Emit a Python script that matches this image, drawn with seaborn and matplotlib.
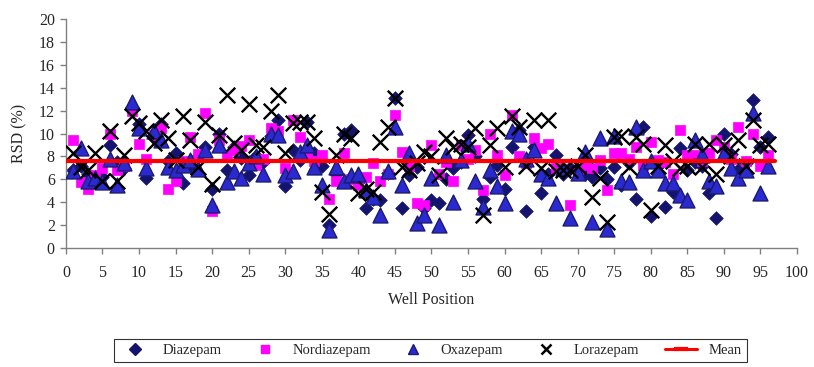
import matplotlib
matplotlib.use("Agg")
import matplotlib.pyplot as plt
import pandas as pd
import seaborn as sns
from matplotlib.lines import Line2D

sns.set_style("white")
plt.rcParams["font.family"] = ["Liberation Serif", "DejaVu Serif"]

wells = list(range(1, 97))

diazepam = [6.8, 7.2, 6.5, 6.0, 6.2, 9.0, 7.5, 7.0, 12.3, 10.8,
            6.1, 9.6, 10.8, 7.6, 8.3, 5.65, 7.2, 8.0, 8.8, 5.2,
            10.0, 6.8, 8.8, 7.9, 6.4, 8.0, 7.5, 9.8, 11.2, 5.4,
            8.6, 7.7, 11.0, 8.3, 7.2, 2.0, 6.5, 10.0, 10.3, 5.8,
            3.5, 4.3, 4.2, 6.6, 13.1, 3.5, 6.4, 7.1, 3.5, 4.2,
            3.9, 6.0, 7.0, 7.5, 9.9, 8.0, 4.3, 6.2, 7.3, 5.2,
            8.8, 10.3, 3.2, 8.8, 4.8, 6.5, 8.1, 6.5, 7.0, 6.8,
            6.5, 6.2, 7.0, 6.0, 7.1, 5.5, 7.4, 4.3, 10.6, 2.8,
            7.2, 3.6, 4.9, 8.7, 6.8, 7.5, 7.2, 4.8, 2.6, 10.0,
            8.2, 6.8, 7.4, 12.9, 8.8, 9.7]

nordiazepam = [9.4, 5.8, 5.2, 6.4, 7.0, 10.0, 6.8, 7.2, 12.0, 9.1,
               7.8, 9.9, 10.5, 5.2, 5.9, 7.6, 9.7, 8.2, 11.8, 3.2,
               9.4, 8.1, 8.6, 8.9, 9.4, 7.3, 7.8, 10.5, 10.2, 7.0,
               11.2, 9.7, 8.1, 7.6, 8.1, 4.3, 5.9, 8.3, 6.0, 5.5,
               6.2, 7.4, 5.9, 6.5, 11.6, 8.4, 7.2, 3.9, 3.8, 9.0,
               6.5, 7.5, 5.9, 9.0, 7.8, 8.6, 5.1, 10.0, 8.1, 6.4,
               11.6, 8.0, 7.4, 9.6, 8.7, 9.1, 7.0, 6.9, 3.8, 6.6,
               7.3, 7.0, 7.7, 5.1, 8.3, 8.3, 7.8, 8.8, 7.3, 9.3,
               7.7, 7.5, 6.5, 10.3, 8.1, 8.1, 7.6, 8.3, 9.4, 8.8,
               7.8, 10.6, 7.6, 10.0, 7.2, 8.1]

oxazepam = [6.7, 8.7, 5.9, 6.1, 5.8, 7.8, 5.5, 7.4, 12.8, 10.5,
            7.0, 10.2, 9.4, 7.1, 6.8, 7.3, 7.7, 6.9, 8.6, 3.8,
            9.0, 5.8, 6.7, 6.1, 7.4, 8.0, 6.5, 10.0, 9.9, 6.4,
            6.7, 8.4, 9.0, 7.1, 5.5, 1.6, 7.1, 5.9, 6.4, 6.5,
            5.1, 4.5, 2.9, 6.7, 10.6, 5.5, 8.3, 2.2, 2.9, 6.1,
            2.0, 8.1, 4.0, 7.7, 9.1, 5.9, 3.6, 6.8, 5.4, 3.9,
            10.2, 10.0, 7.8, 8.6, 6.5, 6.1, 3.9, 7.0, 2.6, 6.6,
            8.4, 2.3, 9.6, 1.7, 9.8, 5.9, 5.8, 10.6, 6.8, 7.6,
            6.8, 5.65, 5.65, 4.6, 4.2, 9.4, 8.1, 5.9, 5.4, 8.3,
            7.0, 6.1, 6.8, 11.8, 4.8, 7.2]

lorazepam = [8.3, 7.1, 6.8, 8.3, 5.9, 10.2, 5.9, 8.1, 11.5, 10.9,
             10.2, 9.2, 11.2, 9.6, 7.7, 11.5, 9.4, 7.1, 11.0, 5.6,
             9.9, 13.4, 9.2, 8.6, 12.6, 9.0, 8.8, 12.0, 13.4, 8.3,
             10.9, 11.0, 11.0, 9.6, 4.9, 3.0, 8.1, 10.0, 9.6, 4.8,
             5.2, 4.9, 9.3, 10.6, 13.1, 7.1, 6.8, 7.4, 8.4, 8.0,
             6.4, 9.6, 8.8, 9.1, 8.8, 10.5, 2.9, 9.0, 10.5, 7.1,
             11.5, 10.6, 7.2, 11.2, 7.0, 11.2, 6.7, 6.8, 6.8, 7.2,
             8.1, 4.5, 6.1, 2.3, 9.7, 9.8, 7.1, 9.7, 9.1, 3.3,
             7.2, 9.0, 7.6, 7.0, 7.2, 9.1, 7.1, 9.1, 6.5, 9.0,
             8.0, 9.4, 7.2, 11.2, 9.0, 9.1]

mean_rsd = 7.6
mean_x = [0, 97]

df = pd.DataFrame({"well": wells, "Diazepam": diazepam, "Nordiazepam": nordiazepam,
                   "Oxazepam": oxazepam, "Lorazepam": lorazepam})

fig = plt.figure(figsize=(8.14, 3.67), dpi=100)
ax = fig.add_axes([0.081, 0.324, 0.898, 0.624])

navy = "#14146e"
sns.scatterplot(data=df, x="well", y="Diazepam", marker="D", s=48, color=navy,
                edgecolor=navy, linewidth=0.5, ax=ax, zorder=2)
sns.scatterplot(data=df, x="well", y="Nordiazepam", marker="s", s=55, color="#ff00ff",
                edgecolor="#ff00ff", linewidth=0.5, ax=ax, zorder=3)
sns.scatterplot(data=df, x="well", y="Oxazepam", marker="^", s=115, color="#2a2ad0",
                edgecolor="#1a1a6e", linewidth=1.0, ax=ax, zorder=4)
sns.scatterplot(data=df, x="well", y="Lorazepam", marker="x", s=125, color="black",
                linewidth=1.7, ax=ax, zorder=5)
sns.lineplot(x=mean_x, y=[mean_rsd] * len(mean_x), color="#ff0000", linewidth=3.0,
             ax=ax, zorder=6)

ax.set_xlim(0, 100)
ax.set_ylim(0, 20)
ax.set_xticks(range(0, 101, 5))
ax.set_yticks(range(0, 21, 2))
ax.tick_params(axis="both", direction="out", length=4, width=1, color="#808080",
               labelsize=11.5, pad=4, left=True, bottom=True)
ax.tick_params(axis="x", pad=8)
for side in ["top", "right"]:
    ax.spines[side].set_visible(False)
for side in ["left", "bottom"]:
    ax.spines[side].set_color("#808080")
    ax.spines[side].set_linewidth(1)
ax.set_xlabel("Well Position", fontsize=11.5, labelpad=8)
ax.set_ylabel("RSD (%)", fontsize=11.5, labelpad=8)

handles = [
    Line2D([0], [0], marker="D", color="none", markerfacecolor=navy, markeredgecolor=navy, markersize=6),
    Line2D([0], [0], marker="s", color="none", markerfacecolor="#ff00ff", markeredgecolor="#ff00ff", markersize=6),
    Line2D([0], [0], marker="^", color="none", markerfacecolor="#2a2ad0", markeredgecolor="#1a1a6e", markersize=7),
    Line2D([0], [0], marker="x", color="none", markeredgecolor="black", markeredgewidth=1.8, markersize=7),
    Line2D([0], [0], color="#ff0000", linewidth=2.2, marker="_", markersize=10, markeredgewidth=3),
]
labels = ["Diazepam", "Nordiazepam", "Oxazepam", "Lorazepam", "Mean"]
leg = fig.legend(handles, labels, loc="center", bbox_to_anchor=(0.529, 0.045), ncol=5,
                 fontsize=10.5, frameon=True, fancybox=False, edgecolor="black",
                 handlelength=2.2, handletextpad=0.8, columnspacing=1.8,
                 borderpad=0.35)
leg.get_frame().set_linewidth(0.8)

fig.savefig("out.png", dpi=100)
